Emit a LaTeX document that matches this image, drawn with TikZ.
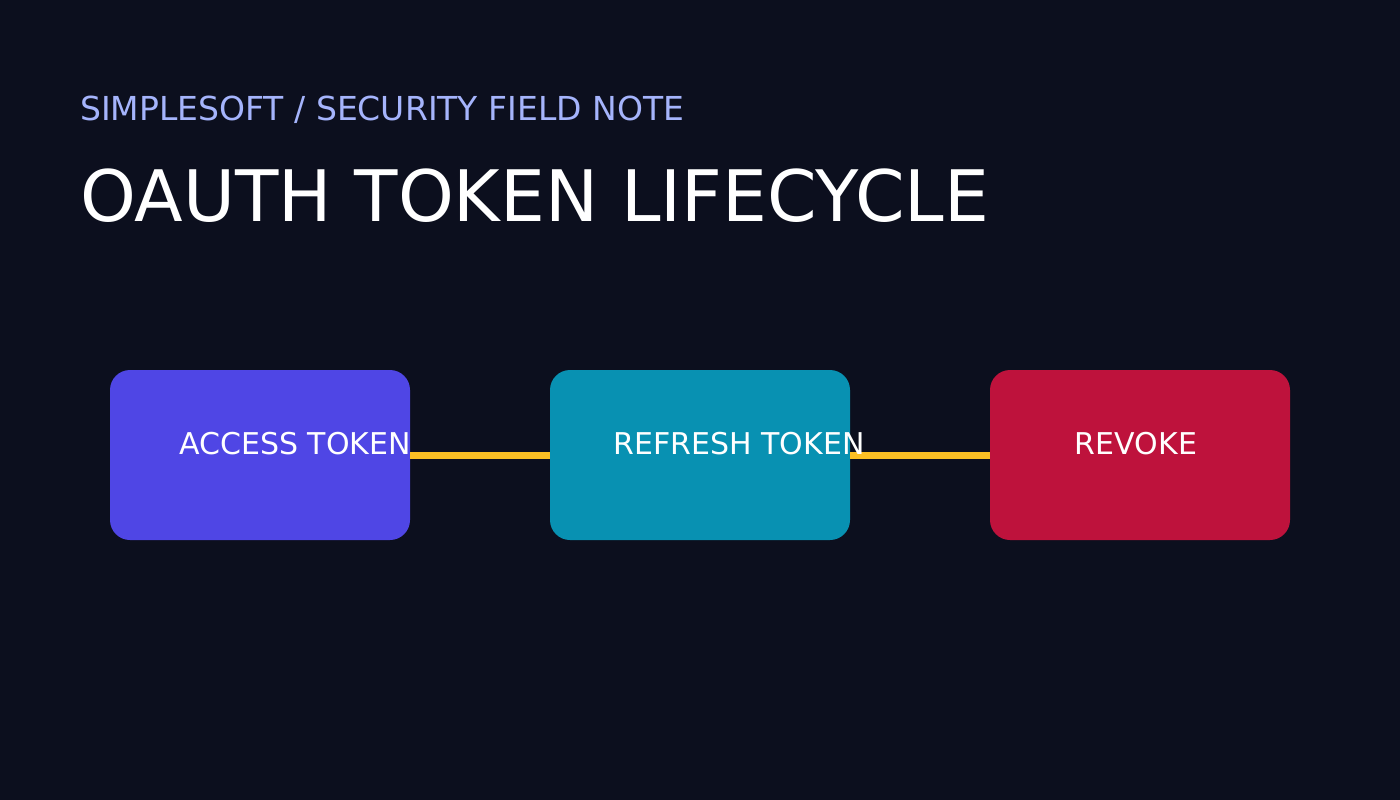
\documentclass[tikz,border=0pt]{standalone}
\usepackage{fontspec}
\setmainfont{DejaVu Sans}
\usetikzlibrary{positioning}
\definecolor{bgdark}{HTML}{0C0F1E}
\definecolor{subtle}{HTML}{A5B4FC}
\definecolor{accessc}{HTML}{4F46E5}
\definecolor{refreshc}{HTML}{0891B2}
\definecolor{revokec}{HTML}{BE123C}
\definecolor{linkc}{HTML}{FBBF24}
\tikzset{
  stage/.style={draw=none,rounded corners=20pt,minimum width=300pt,minimum height=170pt,inner sep=0pt},
  stagetext/.style={text=white,font=\fontsize{30}{36}\selectfont},
  link/.style={linkc,line width=7pt}
}
\begin{document}
\begin{tikzpicture}[x=1pt,y=-1pt]
\fill[bgdark] (0,0) rectangle (1400,800);
\node[anchor=base west,text=subtle,font=\fontsize{33}{40}\selectfont,inner sep=0pt] (sub) at (80,120) {SIMPLESOFT / SECURITY FIELD NOTE};
\node[anchor=base west,text=white,font=\fontsize{71}{80}\selectfont,inner sep=0pt] (title) at (80,221) {OAUTH TOKEN LIFECYCLE};

\node[stage,fill=accessc] (access) at (260,455) {};
\node[stage,fill=refreshc] (refresh) at (700,455) {};
\node[stage,fill=revokec] (revoke) at (1140,455) {};

\draw[link] (access.east) -- (refresh.west);
\draw[link] (refresh.east) -- (revoke.west);

\node[stagetext] (accesst) at (295,444) {ACCESS TOKEN};
\node[stagetext] (refresht) at (739,444) {REFRESH TOKEN};
\node[stagetext] (revoket) at (1136,444) {REVOKE};
\end{tikzpicture}
\end{document}
